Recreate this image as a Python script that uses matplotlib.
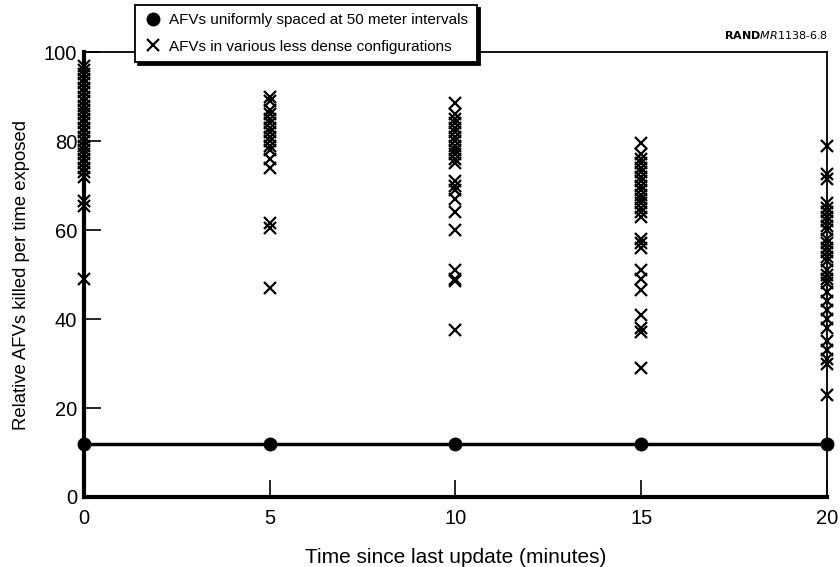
import matplotlib
matplotlib.use("Agg")
import matplotlib.pyplot as plt
from matplotlib.lines import Line2D

plt.rcParams['font.family'] = ['Liberation Sans', 'DejaVu Sans']

# Data
times = [0, 5, 10, 15, 20]
uniform_values = [12, 12, 12, 12, 12]

x0 = [97, 96, 95, 94, 93, 92, 91, 90, 89, 88, 87, 86, 85, 84, 83, 82, 81, 80,
      79, 78, 77, 76, 75, 74, 73, 72, 66.5, 65.5, 49]
x5 = [90, 89, 87, 86, 85, 84, 83, 82, 81, 80, 79, 78, 76, 74, 61.5, 60.5, 47]
x10 = [88.5, 86, 85, 84, 83, 82, 81, 80, 79, 78, 77, 76, 75, 71, 70, 69, 67,
       64, 60, 51, 49, 48.5, 37.5]
x15 = [79.5, 77, 76, 75, 74, 73, 72, 71, 70, 69, 68, 67, 66, 65, 64, 63, 58,
       57, 56, 51, 49, 46.5, 41, 38, 37, 29]
x20 = [79, 72.5, 71.5, 66, 65, 64, 63, 62, 61, 60, 58, 57, 56, 55, 54, 53, 51,
       50, 49, 48, 46, 44, 42, 40, 38, 35, 33, 31, 30, 23]
config_values = [x0, x5, x10, x15, x20]

legend_labels = ["AFVs uniformly spaced at 50 meter intervals",
                 "AFVs in various less dense configurations"]

fig = plt.figure(figsize=(8.4, 5.67), dpi=100)
ax = fig.add_axes([0.1, 0.1235, 0.8845, 0.7845])

for t, vals in zip(times, config_values):
    ax.plot([t] * len(vals), vals, linestyle='none', marker='x', color='black',
            markersize=8, markeredgewidth=1.6, clip_on=False, zorder=3)

ax.plot(times, uniform_values, color='black', linewidth=2.5, marker='o',
        markersize=9, clip_on=False, zorder=4)

ax.set_xlim(0, 20)
ax.set_ylim(0, 100)
ax.set_xticks(times)
ax.set_yticks([0, 20, 40, 60, 80, 100])
ax.tick_params(direction='in', length=12, width=1.2, labelsize=14.5)
ax.tick_params(axis='x', pad=9)
ax.tick_params(axis='y', pad=5)
for s in ['left', 'bottom']:
    ax.spines[s].set_linewidth(3)
for s in ['top', 'right']:
    ax.spines[s].set_linewidth(1.3)

ax.set_xlabel("Time since last update (minutes)", fontsize=15, labelpad=14)
ax.set_ylabel("Relative AFVs killed per time exposed", fontsize=13.3, labelpad=10)

handles = [Line2D([], [], color='black', marker='o', linestyle='none', markersize=9),
           Line2D([], [], color='black', marker='x', linestyle='none', markersize=8,
                  markeredgewidth=1.6)]
leg = fig.legend(handles, legend_labels, loc='upper left',
                 bbox_to_anchor=(135 / 840, 1 - 5 / 567),
                 fontsize=11,
                 frameon=True, fancybox=False, shadow={'color': 'black', 'alpha': 1},
                 handletextpad=0.45, handlelength=1.25, borderpad=0.55,
                 labelspacing=0.8, borderaxespad=0)
leg.get_frame().set_edgecolor('black')
leg.get_frame().set_linewidth(1.3)
leg.get_frame().set_alpha(1)
leg.set_zorder(10)

fig.text(0.985, 1 - 35 / 567, r"$\bf{RAND}$" + r"$\it{MR1138}$-$\it{6.8}$",
         ha='right', va='center', fontsize=8)

fig.savefig("out.png", dpi=100)
